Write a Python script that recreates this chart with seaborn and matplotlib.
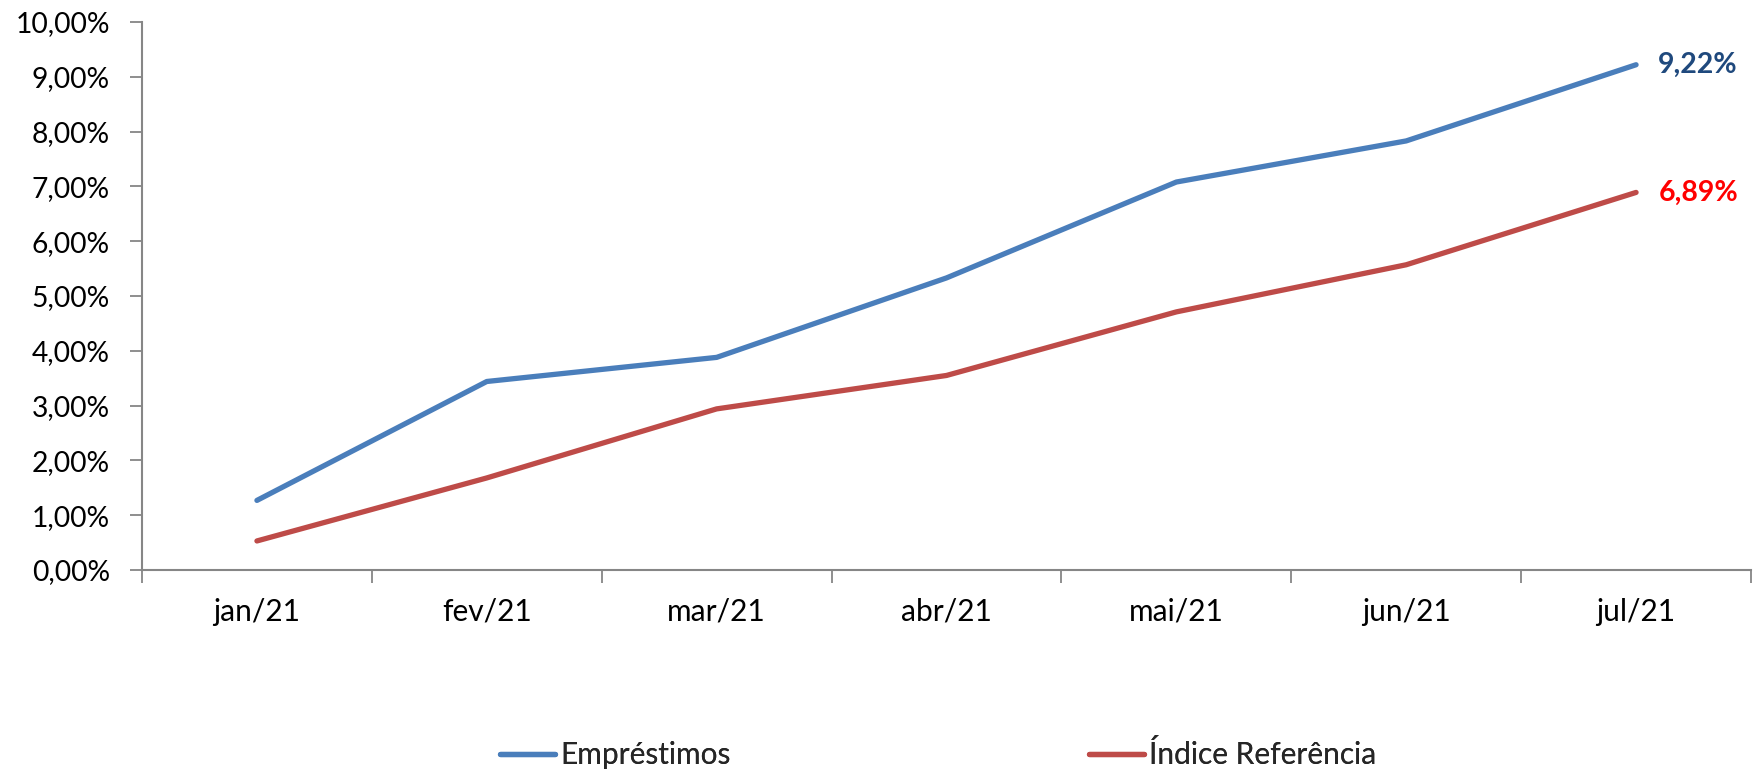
import matplotlib
matplotlib.use("Agg")
import matplotlib.pyplot as plt
import seaborn as sns
import pandas as pd
import numpy as np
from matplotlib.ticker import FixedLocator, FuncFormatter
from matplotlib.lines import Line2D

months = ["jan/21", "fev/21", "mar/21", "abr/21", "mai/21", "jun/21", "jul/21"]
emprestimos = [1.27, 3.44, 3.88, 5.33, 7.08, 7.83, 9.22]
indice_ref = [0.53, 1.68, 2.94, 3.55, 4.71, 5.57, 6.89]
series_names = ["Empréstimos", "Índice Referência"]
yticks = [0, 1, 2, 3, 4, 5, 6, 7, 8, 9, 10]

sns.set_theme(style="white")
plt.rcParams['font.family'] = ['Lato', 'DejaVu Sans']

df = pd.DataFrame({
    "mes": months * 2,
    "x": list(range(len(months))) * 2,
    "valor": emprestimos + indice_ref,
    "serie": [series_names[0]] * len(months) + [series_names[1]] * len(months),
})

fig = plt.figure(figsize=(17.53, 7.69), dpi=100)
ax = fig.add_axes([142 / 1753, 1 - 570 / 769, (1751 - 142) / 1753, (570 - 22) / 769])

palette = {series_names[0]: "#4A7EBB", series_names[1]: "#BE4B48"}
sns.lineplot(data=df, x="x", y="valor", hue="serie", palette=palette, ax=ax,
             linewidth=3.8, solid_capstyle="round", legend=False)

ax.set_xlim(-0.5, len(months) - 0.5)
ax.set_ylim(0, 10)
ax.set_xlabel("")
ax.set_ylabel("")

ax.xaxis.set_major_locator(FixedLocator(range(len(months))))
ax.set_xticklabels(months)
ax.xaxis.set_minor_locator(FixedLocator(np.arange(-0.5, len(months), 1.0)))
ax.tick_params(axis="x", which="major", length=0, pad=20, labelsize=21.5, colors="black")
ax.tick_params(axis="x", which="minor", length=9, width=1.3, color="#868686", direction="out", bottom=True)

ax.yaxis.set_major_locator(FixedLocator(yticks))
ax.yaxis.set_major_formatter(FuncFormatter(lambda v, p: f"{v:.2f}%".replace(".", ",")))
ax.tick_params(axis="y", which="major", length=9, width=1.3, color="#868686", direction="out",
               left=True, pad=14, labelsize=20.3, labelcolor="black")

for side in ["top", "right"]:
    ax.spines[side].set_visible(False)
for side in ["left", "bottom"]:
    ax.spines[side].set_color("#868686")
    ax.spines[side].set_linewidth(1.5)

last = len(months) - 1
ax.annotate(f"{emprestimos[-1]:.2f}%".replace(".", ","), xy=(last, emprestimos[-1]),
            xytext=(16, 0), textcoords="offset points", va="center", ha="left",
            fontsize=20.5, fontweight="bold", color="#1F497D")
ax.annotate(f"{indice_ref[-1]:.2f}%".replace(".", ","), xy=(last, indice_ref[-1]),
            xytext=(16, 0), textcoords="offset points", va="center", ha="left",
            fontsize=20.5, fontweight="bold", color="#FF0000")

legend_x = [500, 1089]
for name, lx in zip(series_names, legend_x):
    h = Line2D([0], [0], color=palette[name], lw=3.8, solid_capstyle="round")
    leg = fig.legend([h], [name], loc="center left", bbox_to_anchor=(lx / 1753, 1 - 755 / 769),
                     frameon=False, fontsize=21.5, handlelength=1.85, handletextpad=0.17,
                     borderpad=0, borderaxespad=0)
    fig.add_artist(leg)

fig.savefig("out.png", dpi=100)
